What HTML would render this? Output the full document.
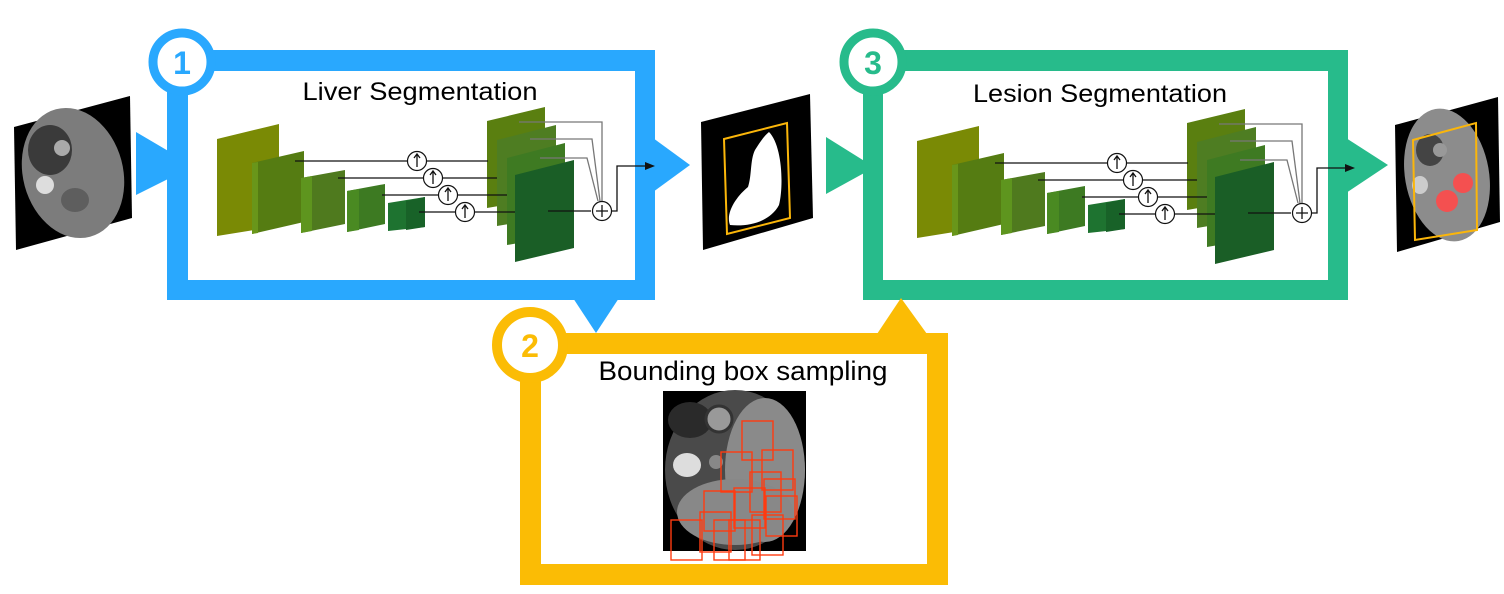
<!DOCTYPE html>
<html><head><meta charset="utf-8"><style>html,body{margin:0;padding:0;background:#fff}svg{display:block}</style></head>
<body>
<svg width="1504" height="594" viewBox="0 0 1504 594" xmlns="http://www.w3.org/2000/svg" font-family="Liberation Sans, sans-serif">
<defs>
<g id="net">
  <polygon points="217,139 279,124 279,226 217,236" fill="#7a8a05"/>
  <polygon points="252,163 304,151 304,222 252,234" fill="#557c12"/>
  <polygon points="252,163 258,162 258,233 252,234" fill="#69961a"/>
  <polygon points="301,178 345,170 345,224 301,233" fill="#4f7a1e"/>
  <polygon points="301,178 312,176 312,231 301,233" fill="#5e951e"/>
  <polygon points="347,191 385,184 385,224 347,232" fill="#3d7a22"/>
  <polygon points="347,191 359,189 359,230 347,232" fill="#4a8a22"/>
  <polygon points="388,203 425,197 425,227 388,231" fill="#1e7330"/>
  <polygon points="406,201 425,197 425,227 406,230" fill="#186228"/>
  <polygon points="487,121 545,107 545,198 487,208" fill="#5a7f10"/>
  <polygon points="497,140 556,125 556,216 497,226" fill="#4e7d22"/>
  <polygon points="507,158 565,143 565,235 507,245" fill="#3e7a22"/>
  <polygon points="515,175 574,160 574,248 515,262" fill="#1a5e26"/>
  <g stroke="#111" stroke-width="1.3" fill="none">
    <line x1="295" y1="161" x2="488" y2="161"/>
    <line x1="338" y1="178" x2="497" y2="178"/>
    <line x1="382" y1="195" x2="507" y2="195"/>
    <line x1="419" y1="212" x2="515" y2="212"/>
    <line x1="548" y1="211" x2="591" y2="211"/>
  </g>
  <g stroke="#777" stroke-width="1.3" fill="none">
    <polyline points="519,122 602,122 602,201"/>
    <polyline points="530,139 592,139 600,201"/>
    <polyline points="540,158 587,158 598,201"/>
  </g>
  <g stroke="#111" stroke-width="1.2" fill="#fff">
    <circle cx="417" cy="161" r="9.5"/><circle cx="433" cy="178" r="9.5"/>
    <circle cx="448" cy="195" r="9.5"/><circle cx="465" cy="212" r="9.5"/>
    <circle cx="602" cy="211" r="9.5"/>
  </g>
  <g stroke="#111" stroke-width="1.3" fill="none">
    <path d="M417,167 V155 M414,158 L417,154 L420,158"/>
    <path d="M433,184 V172 M430,175 L433,171 L436,175"/>
    <path d="M448,201 V189 M445,192 L448,188 L451,192"/>
    <path d="M465,218 V206 M462,209 L465,205 L468,209"/>
    <path d="M596,211 H608 M602,205 V217"/>
    <polyline points="611,211 617,211 617,166 645,166"/>
  </g>
  <polygon points="645,162 655,166 645,170" fill="#111"/>
</g>
</defs>

<g fill="#29a8fe">
  <path d="M167,50 H655 V300 H167 Z M188,71 V280 H635 V71 Z" fill-rule="evenodd"/>
  <polygon points="136,132 170,152 170,178 136,195"/>
  <polygon points="653,138 690,165 653,192"/>
  <polygon points="573,298 619,298 596,333"/>
</g>
<circle cx="182" cy="62" r="29" fill="#fff" stroke="#29a8fe" stroke-width="9"/>
<text x="182" y="74" font-size="32" font-weight="bold" fill="#29a8fe" text-anchor="middle">1</text>
<text x="420" y="100" font-size="25" fill="#000" text-anchor="middle" textLength="235" lengthAdjust="spacingAndGlyphs">Liver Segmentation</text>
<use href="#net"/>

<g fill="#27bb8b">
  <path d="M863,50 H1348 V300 H863 Z M883,71 V280 H1328 V71 Z" fill-rule="evenodd"/>
  <polygon points="826,137 866,162 866,172 826,194"/>
  <polygon points="1346,138 1388,165 1346,193"/>
</g>
<circle cx="873" cy="62" r="29" fill="#fff" stroke="#27bb8b" stroke-width="9"/>
<text x="873" y="74" font-size="32" font-weight="bold" fill="#27bb8b" text-anchor="middle">3</text>
<text x="1100" y="102" font-size="25" fill="#000" text-anchor="middle" textLength="254" lengthAdjust="spacingAndGlyphs">Lesion Segmentation</text>
<use href="#net" transform="translate(700,2)"/>

<g fill="#fbbc05">
  <path d="M520,333 H948 V585 H520 Z M541,354 V564 H927 V354 Z" fill-rule="evenodd"/>
  <polygon points="877,334 901,298 927,334"/>
</g>
<circle cx="530" cy="345" r="33" fill="#fff" stroke="#fbbc05" stroke-width="10"/>
<text x="530" y="357" font-size="32" font-weight="bold" fill="#fbbc05" text-anchor="middle">2</text>
<text x="743" y="380" font-size="27" fill="#000" text-anchor="middle" textLength="289" lengthAdjust="spacingAndGlyphs">Bounding box sampling</text>

<rect x="663" y="391" width="143" height="160" fill="#000"/>
<ellipse cx="735" cy="470" rx="70" ry="80" fill="#4a4a4a"/>
<ellipse cx="765" cy="470" rx="40" ry="72" fill="#8a8a8a"/>
<ellipse cx="735" cy="512" rx="58" ry="33" fill="#888"/>
<ellipse cx="690" cy="420" rx="22" ry="18" fill="#2a2a2a"/>
<circle cx="719" cy="419" r="13" fill="#999" stroke="#333" stroke-width="3"/>
<ellipse cx="687" cy="465" rx="14" ry="12" fill="#ddd"/>
<circle cx="716" cy="462" r="7" fill="#888"/>
<g fill="none" stroke="#ff3b10" stroke-width="1.4">
  <rect x="742" y="421" width="31" height="39"/><rect x="721" y="452" width="31" height="40"/>
  <rect x="762" y="450" width="31" height="40"/><rect x="750" y="472" width="31" height="40"/>
  <rect x="764" y="479" width="31" height="40"/><rect x="734" y="488" width="31" height="40"/>
  <rect x="704" y="491" width="31" height="40"/><rect x="766" y="496" width="31" height="40"/>
  <rect x="700" y="512" width="31" height="40"/><rect x="671" y="520" width="31" height="40"/>
  <rect x="714" y="520" width="31" height="40"/><rect x="729" y="520" width="31" height="40"/>
  <rect x="752" y="515" width="31" height="40"/>
</g>

<polygon points="14,127 130,96 132,218 16,250" fill="#000"/>
<ellipse cx="73" cy="173" rx="50" ry="66" transform="rotate(-15 73 173)" fill="#7c7c7c"/>
<ellipse cx="50" cy="150" rx="22" ry="25" fill="#3a3a3a"/>
<circle cx="62" cy="148" r="8" fill="#aaa"/>
<ellipse cx="45" cy="185" rx="9" ry="9" fill="#ddd"/>
<ellipse cx="75" cy="200" rx="14" ry="12" fill="#5e5e5e"/>

<polygon points="701,122 810,94 813,218 703,250" fill="#000"/>
<polygon points="724,139 787,123 790,218 727,234" fill="none" stroke="#fbb60a" stroke-width="2"/>
<path d="M769,132 C782,145 784,185 779,205 C770,222 748,227 730,225 C725,212 738,195 748,187 C752,175 750,160 755,150 C760,142 764,136 769,132 Z" fill="#fff"/>

<polygon points="1395,125 1498,97 1500,222 1397,252" fill="#000"/>
<ellipse cx="1447" cy="175" rx="42" ry="67" transform="rotate(-10 1447 175)" fill="#8c8c8c"/>
<ellipse cx="1430" cy="150" rx="14" ry="16" fill="#444"/>
<circle cx="1440" cy="150" r="7" fill="#999"/>
<ellipse cx="1420" cy="185" rx="8" ry="9" fill="#ccc"/>
<circle cx="1463" cy="183" r="10" fill="#f45050"/>
<circle cx="1447" cy="201" r="11" fill="#f45050"/>
<polygon points="1413,140 1476,123 1477,230 1415,240" fill="none" stroke="#fbb60a" stroke-width="2"/>
</svg>
</body></html>
